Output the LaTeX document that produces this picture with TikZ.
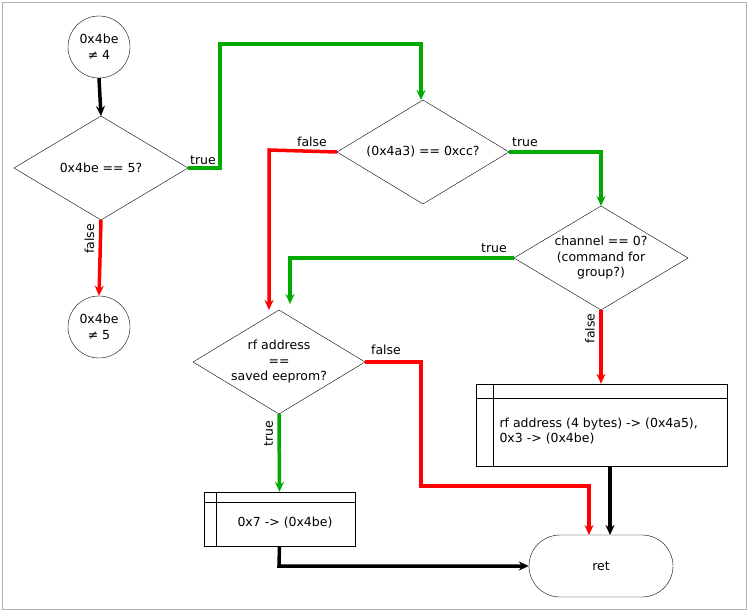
\documentclass[tikz,border=0pt]{standalone}
\usepackage{fontspec}
\setmainfont{DejaVu Sans}
\usetikzlibrary{shapes.geometric,arrows.meta}
\definecolor{gr}{RGB}{0,170,0}
\newcommand{\mydiam}[6]{%
 \node[align=center] (#1) at (#2,#3) {#6};
 \coordinate (#1-w) at (#2-#4,#3); \coordinate (#1-e) at (#2+#4,#3);
 \coordinate (#1-n) at (#2,#3-#5); \coordinate (#1-s) at (#2,#3+#5);
 \draw (#1-w)--(#1-n)--(#1-e)--(#1-s)--cycle;}
\begin{document}
\begin{tikzpicture}[x=1pt,y=-1pt,font=\fontsize{12.5}{15.5}\selectfont,
 circ/.style={draw,circle,minimum size=62pt,inner sep=0pt,align=center},
 arr/.style={line width=3.5pt,-{Stealth[length=10pt,width=9pt]}},
 lbl/.style={text=black}]
\useasboundingbox (0,0) rectangle (750,615);
\draw[gray!60] (2,2) rectangle (746,609);
\node[circ] (c1) at (99,47) {0x4be\\≠ 4};
\node[circ] (c2) at (99,327) {0x4be\\≠ 5};
\mydiam{d1}{101}{168}{87}{52}{0x4be == 5?}
\mydiam{d2}{423}{152}{86}{52}{(0x4a3) == 0xcc?}
\mydiam{d3}{601}{258}{87}{52}{channel == 0?\\(command for\\group?)}
\mydiam{d4}{279}{362}{86}{52}{rf address\\==\\saved eeprom?}
\node[draw,minimum width=251pt,minimum height=82pt] (p1) at (601.5,425) {};
\draw (p1.north west)++(0,14)--++(251,0);
\draw (p1.north west)++(17,0)--++(0,82);
\node[align=left,anchor=west] at (496,431) {rf address (4 bytes) -> (0x4a5),\\0x3 -> (0x4be)};
\node[draw,minimum width=151pt,minimum height=54pt] (p2) at (279.5,519) {};
\draw (p2.north west)++(0,10)--++(151,0);
\draw (p2.north west)++(12,0)--++(0,54);
\node at (285,523) {0x7 -> (0x4be)};
\node[draw,rounded corners=31pt,minimum width=144pt,minimum height=62pt] (r) at (601,566) {ret};
\draw[arr] (c1.south) -- (d1-n);
\draw[arr,red] (d1-s) -- (c2.north) node[pos=0.25,above,rotate=90,lbl,yshift=1pt]{false};
\draw[arr,gr] (d1-e) -- (220,168) -- (220,44) -- (421,44) -- (421,100);
\node[lbl] at (203,160) {true};
\draw[arr,red] (d2-w) -- (269,150) -- (269,310);
\node[lbl] at (312,142) {false};
\draw[arr,gr] (d2-e) -- (601,152) -- (d3-n);
\node[lbl] at (525,142) {true};
\draw[arr,gr] (d3-w) -- (290,258) -- (290,304);
\node[lbl] at (494,248) {true};
\draw[arr,red] (d3-s) -- (p1.north-|d3-s) node[above,rotate=90,lbl,yshift=1pt,pos=0.25]{false};
\draw[arr,red] (d4-e) -- (421,362) -- (421,486) -- (589,486) -- (589,535);
\node[lbl] at (386,350) {false};
\draw[arr] (610,466) -- (610,535);
\draw[arr,gr] (d4-s) -- (p2.north) node[pos=0.25,above,rotate=90,lbl,yshift=1pt]{true};
\draw[arr] (p2.south) -- (279,566) -- (r.west);
\end{tikzpicture}
\end{document}
